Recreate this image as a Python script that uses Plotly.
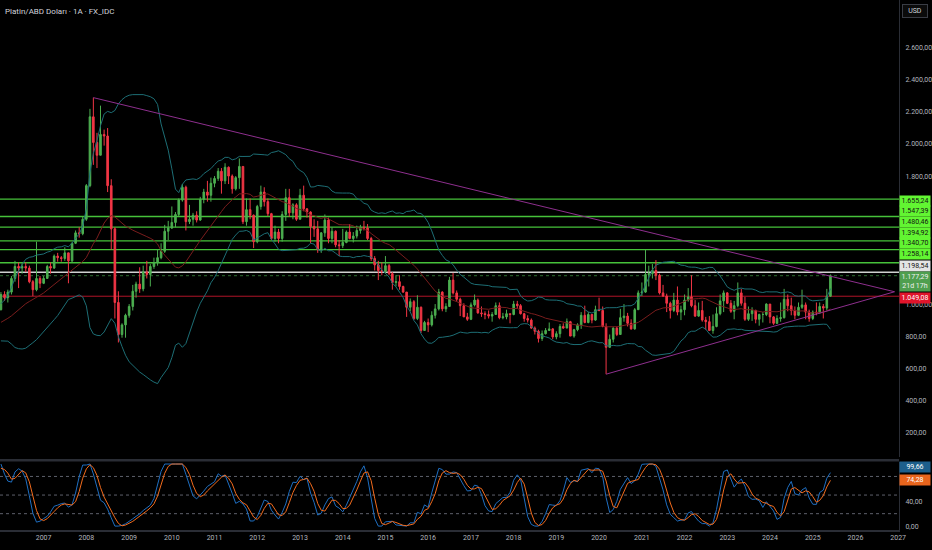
import numpy as np
import pandas as pd
import plotly.graph_objects as go

# ---- data (monthly platinum, USD/oz) ----
# closes before 2006, only used to warm up the indicators
warmup_close = [
    640, 680, 660, 615, 645, 680, 700, 705, 710, 750, 770, 810,
    850, 860, 900, 860, 835, 805, 810, 850, 845, 845, 855, 860,
    860, 865, 870, 865, 875, 880, 885, 905, 930, 925, 965, 965,
]

close = [
    1060, 1040, 1075, 1160, 1235, 1225, 1235, 1225, 1140, 1090, 1160, 1130,
    1160, 1235, 1225, 1300, 1290, 1285, 1320, 1270, 1380, 1445, 1440, 1530,
    1740, 2170, 2010, 1930, 2060, 2050, 1740, 1470, 1010, 810, 870, 930,
    985, 1080, 1125, 1095, 1200, 1185, 1235, 1260, 1290, 1330, 1455, 1475,
    1510, 1560, 1650, 1730, 1515, 1530, 1555, 1525, 1655, 1700, 1680, 1755,
    1785, 1830, 1770, 1855, 1800, 1720, 1790, 1860, 1515, 1590, 1555, 1390,
    1610, 1700, 1640, 1565, 1410, 1450, 1410, 1560, 1665, 1570, 1620, 1530,
    1680, 1595, 1575, 1485, 1470, 1340, 1445, 1525, 1410, 1455, 1370, 1365,
    1385, 1450, 1410, 1425, 1460, 1480, 1475, 1410, 1285, 1245, 1210, 1205,
    1240, 1190, 1135, 1140, 1110, 1075, 980, 1015, 910, 980, 835, 885,
    870, 930, 970, 1075, 970, 985, 1150, 1070, 1030, 990, 920, 905,
    995, 1025, 945, 940, 935, 925, 935, 990, 915, 920, 940, 935,
    1000, 990, 940, 910, 900, 850, 830, 785, 815, 835, 845, 795,
    815, 860, 850, 890, 800, 840, 870, 930, 885, 935, 900, 965,
    960, 860, 730, 780, 850, 810, 915, 925, 880, 845, 965, 1070,
    1075, 1185, 1190, 1210, 1180, 1070, 1050, 1005, 960, 1025, 950, 965,
    1025, 1045, 990, 925, 960, 900, 890, 835, 860, 940, 1020, 1070,
    1005, 955, 990, 1070, 1005, 905, 940, 960, 905, 935, 935, 1000,
    920, 880, 910, 915, 1030, 990, 960, 930, 980, 995, 950, 910,
    950, 945, 985, 975, 1049.08, 1177.29,
]

high = [
    1075, 1080, 1090, 1175, 1270, 1260, 1255, 1260, 1240, 1150, 1390, 1175,
    1175, 1245, 1260, 1310, 1320, 1300, 1355, 1320, 1385, 1460, 1480, 1545,
    1750, 2220, 2290, 2070, 2240, 2090, 2100, 1780, 1480, 1080, 880, 940,
    1000, 1120, 1140, 1230, 1240, 1270, 1250, 1290, 1340, 1380, 1495, 1520,
    1610, 1575, 1660, 1750, 1740, 1620, 1570, 1580, 1670, 1720, 1770, 1790,
    1800, 1850, 1850, 1880, 1860, 1810, 1800, 1910, 1860, 1660, 1660, 1560,
    1620, 1740, 1730, 1660, 1570, 1490, 1470, 1580, 1720, 1720, 1630, 1630,
    1720, 1740, 1600, 1580, 1530, 1520, 1450, 1560, 1540, 1480, 1460, 1400,
    1470, 1460, 1500, 1450, 1490, 1495, 1520, 1500, 1420, 1300, 1270, 1260,
    1300, 1250, 1200, 1180, 1180, 1115, 1075, 1035, 1025, 1055, 985, 895,
    910, 955, 1000, 1095, 1080, 1005, 1170, 1195, 1085, 1040, 1005, 945,
    1010, 1060, 1035, 985, 955, 960, 950, 1010, 1010, 945, 965, 940,
    1020, 1020, 1000, 945, 930, 910, 860, 840, 835, 850, 885, 850,
    830, 875, 880, 910, 895, 845, 880, 950, 990, 950, 935, 990,
    1040, 985, 880, 810, 855, 860, 970, 1000, 945, 905, 975, 1085,
    1135, 1340, 1240, 1250, 1275, 1190, 1120, 1065, 1015, 1070, 1110, 990,
    1060, 1100, 1180, 1025, 1010, 1020, 920, 925, 935, 980, 1060, 1085,
    1075, 1025, 1020, 1135, 1095, 1045, 985, 980, 965, 940, 950, 1005,
    1000, 925, 930, 1010, 1095, 1060, 1040, 985, 1010, 1090, 1010, 965,
    960, 1010, 1010, 1000, 1095, 1185,
]

low = [
    960, 1020, 1010, 1060, 1140, 1100, 1190, 1200, 1130, 1050, 1080, 1100,
    1125, 1160, 1190, 1220, 1265, 1265, 1270, 1130, 1260, 1375, 1415, 1430,
    1520, 1730, 1870, 1850, 1930, 1990, 1700, 1340, 910, 760, 790, 790,
    915, 960, 1040, 1070, 1080, 1160, 1110, 1220, 1240, 1280, 1320, 1400,
    1470, 1480, 1550, 1640, 1460, 1500, 1490, 1510, 1520, 1630, 1640, 1640,
    1730, 1770, 1690, 1750, 1750, 1690, 1710, 1720, 1500, 1490, 1530, 1350,
    1380, 1590, 1610, 1550, 1400, 1390, 1380, 1390, 1520, 1545, 1530, 1520,
    1530, 1580, 1540, 1380, 1420, 1320, 1320, 1420, 1380, 1380, 1355, 1300,
    1350, 1380, 1405, 1385, 1410, 1440, 1460, 1400, 1270, 1210, 1150, 1180,
    1190, 1180, 1090, 1110, 1090, 1070, 920, 955, 900, 900, 820, 835,
    825, 860, 910, 960, 955, 950, 985, 1060, 1015, 925, 920, 895,
    900, 985, 940, 920, 905, 910, 890, 955, 905, 905, 905, 880,
    930, 970, 935, 890, 885, 845, 810, 760, 770, 810, 835, 780,
    780, 790, 845, 860, 800, 790, 830, 845, 880, 880, 880, 895,
    955, 855, 562, 740, 760, 800, 810, 890, 860, 840, 840, 965,
    1050, 1070, 1110, 1160, 1150, 1060, 1045, 950, 910, 950, 930, 900,
    930, 1015, 980, 920, 920, 890, 840, 835, 815, 855, 930, 950,
    1000, 945, 905, 980, 990, 895, 895, 895, 880, 865, 885, 925,
    880, 870, 875, 890, 910, 955, 930, 905, 925, 970, 905, 890,
    900, 930, 940, 910, 960, 1045,
]

# drawn horizontal levels
green_levels = [1655.24, 1547.39, 1480.46, 1394.92, 1340.70, 1258.14]
white_level = 1198.54
last_price = 1177.29
red_level = 1049.08
countdown = "21d 17h"

# triangle trend lines (date, price)
tri_upper_dates = ["2008-03-01", "2026-12-01"]
tri_upper_prices = [2290, 1077]
tri_lower_dates = ["2020-03-01", "2026-12-01"]
tri_lower_prices = [562, 1077]

# last stoch RSI values shown on the scale
k_last, d_last = 99.66, 74.28

# scale labels left visible by the price tags
price_ticks = [200, 400, 600, 800, 1000, 1800, 2000, 2200, 2400, 2600]
stoch_ticks = [0, 40]
year_ticks = list(range(2006, 2028))


def tr_num(v):
    return f"{v:,.2f}".replace(",", "X").replace(".", ",").replace("X", ".")


# ---- series ----
dates = pd.date_range("2006-01-01", periods=len(close), freq="MS")
all_close = pd.Series(warmup_close + close, dtype=float)
n_warm = len(warmup_close)

c = np.array(close, dtype=float)
o = np.concatenate([[warmup_close[-1]], c[:-1]])
h = np.maximum(np.array(high, dtype=float), np.maximum(o, c))
l = np.minimum(np.array(low, dtype=float), np.minimum(o, c))

# bollinger bands 20, 2
basis = all_close.rolling(20).mean()
dev = all_close.rolling(20).std(ddof=0) * 2
upper = (basis + dev).iloc[n_warm:].values
lower = (basis - dev).iloc[n_warm:].values
basis = basis.iloc[n_warm:].values

# stochastic RSI 14,14,3,3
delta = all_close.diff()
gain = delta.clip(lower=0).ewm(alpha=1 / 14, adjust=False).mean()
loss = (-delta.clip(upper=0)).ewm(alpha=1 / 14, adjust=False).mean()
rsi = 100 - 100 / (1 + gain / loss)
lo14 = rsi.rolling(14).min()
hi14 = rsi.rolling(14).max()
stoch = (rsi - lo14) / (hi14 - lo14) * 100
k = stoch.rolling(3).mean()
d = k.rolling(3).mean()
k = k.iloc[n_warm:].values
d = d.iloc[n_warm:].values

# ---- figure ----
BG = "#000000"
AXIS_TXT = "#b2b5be"
GREEN = "#4caf50"
RED = "#f23645"

fig = go.Figure()

fig.add_trace(go.Scatter(x=dates, y=upper, mode="lines", line=dict(color="#1d6e75", width=1),
                         hoverinfo="skip"))
fig.add_trace(go.Scatter(x=dates, y=lower, mode="lines", line=dict(color="#1d6e75", width=1),
                         hoverinfo="skip"))
fig.add_trace(go.Scatter(x=dates, y=basis, mode="lines", line=dict(color="#7a1d1d", width=1),
                         hoverinfo="skip"))

fig.add_trace(go.Candlestick(
    x=dates, open=o, high=h, low=l, close=c,
    increasing=dict(line=dict(color=GREEN, width=1), fillcolor=GREEN),
    decreasing=dict(line=dict(color=RED, width=1), fillcolor=RED),
    whiskerwidth=0, hoverinfo="skip",
))

fig.add_trace(go.Scatter(x=pd.to_datetime(tri_upper_dates), y=tri_upper_prices, mode="lines",
                         line=dict(color="#8e2f8e", width=1), hoverinfo="skip"))
fig.add_trace(go.Scatter(x=pd.to_datetime(tri_lower_dates), y=tri_lower_prices, mode="lines",
                         line=dict(color="#8e2f8e", width=1), hoverinfo="skip"))

fig.add_trace(go.Scatter(x=dates, y=k, yaxis="y2", mode="lines",
                         line=dict(color="#1f6fc2", width=1), hoverinfo="skip"))
fig.add_trace(go.Scatter(x=dates, y=d, yaxis="y2", mode="lines",
                         line=dict(color="#f26b1d", width=1), hoverinfo="skip"))

shapes = []
for lv in green_levels:
    shapes.append(dict(type="line", xref="x domain", x0=0, x1=1, yref="y", y0=lv, y1=lv,
                       line=dict(color="#46c23a", width=1.3), layer="below"))
shapes.append(dict(type="line", xref="x domain", x0=0, x1=1, yref="y", y0=white_level, y1=white_level,
                   line=dict(color="#cfcfcf", width=1.6), layer="below"))
shapes.append(dict(type="line", xref="x domain", x0=0, x1=1, yref="y", y0=last_price, y1=last_price,
                   line=dict(color="#2e6b30", width=1, dash="dot"), layer="below"))
shapes.append(dict(type="line", xref="x domain", x0=0, x1=1, yref="y", y0=red_level, y1=red_level,
                   line=dict(color="#b01428", width=1), layer="below"))
for lv in (80, 50, 20):
    shapes.append(dict(type="line", xref="x domain", x0=0, x1=1, yref="y2", y0=lv, y1=lv,
                       line=dict(color="#5d606b", width=1, dash="dot"), layer="below"))
# pane separator
shapes.append(dict(type="line", xref="paper", x0=0, x1=1, yref="paper", y0=0.1315, y1=0.1315,
                   line=dict(color="#2a2d35", width=2.5)))

H = 530.0  # plot height in px (550 minus bottom margin)


def py(pix):
    return (H - pix) / H


def tag(text, pix, bg, fg, hgt=10):
    return dict(text=text, xref="paper", yref="paper", x=1, y=py(pix), xanchor="left",
                yanchor="middle", showarrow=False, width=30, height=hgt, borderpad=0,
                bgcolor=bg, font=dict(size=7, color=fg))


annotations = [
    dict(text="Platin/ABD Doları · 1A · FX_IDC", xref="paper", yref="paper", x=0, y=1,
         xanchor="left", yanchor="top", xshift=3, yshift=-5, showarrow=False,
         font=dict(size=8, color="#d1d4dc")),
    dict(text="USD", xref="paper", yref="paper", x=1, y=1, xanchor="left", yanchor="top",
         xshift=3, yshift=-4, showarrow=False, font=dict(size=7, color="#d1d4dc"),
         bordercolor="#3a3d45", borderwidth=1, borderpad=2, bgcolor="#0b0b0b", width=20),
]

label_pix = [200.7, 211.4, 222.1, 232.8, 243.5, 254.2]
for lv, pix in zip(green_levels, label_pix):
    annotations.append(tag(tr_num(lv), pix, "#62f532", "#111111"))
annotations.append(tag(tr_num(white_level), 266.0, "#e4e4e4", "#111111"))
annotations.append(tag(tr_num(last_price) + "<br>" + countdown, 281.5, "#4f9f4f", "#f0f0f0", hgt=19))
annotations.append(tag(tr_num(red_level), 297.5, "#e0142b", "#ffffff"))
annotations.append(tag(tr_num(k_last), 466.5, "#1d5f8c", "#ffffff"))
annotations.append(tag(tr_num(d_last), 479.5, "#e8651d", "#ffffff"))

fig.update_layout(
    width=932, height=550,
    margin=dict(l=0, r=31, t=0, b=20),
    paper_bgcolor=BG, plot_bgcolor=BG,
    showlegend=False, hovermode=False,
    font=dict(family="Roboto, sans-serif", size=7, color=AXIS_TXT),
    xaxis=dict(
        type="date", range=["2005-12-24", "2027-01-08"], anchor="y2",
        rangeslider=dict(visible=False), showgrid=False, zeroline=False,
        tickvals=[pd.Timestamp(f"{yr}-01-01") for yr in year_ticks],
        ticktext=[str(yr) for yr in year_ticks],
        showline=True, linecolor="#2a2d35", linewidth=2,
        tickfont=dict(size=7, color=AXIS_TXT), ticks="",
    ),
    yaxis=dict(
        domain=[0.1375, 1], range=[43.75, 2900], side="right", showgrid=False, zeroline=False,
        tickvals=price_ticks, ticktext=[tr_num(v) for v in price_ticks],
        tickfont=dict(size=7, color=AXIS_TXT), showline=True, linecolor="#2a2d35", linewidth=1,
        ticks="", ticklabelstandoff=4,
    ),
    yaxis2=dict(
        domain=[0, 0.128], range=[-6.3, 103], side="right", showgrid=False, zeroline=False,
        tickvals=stoch_ticks, ticktext=[tr_num(v) for v in stoch_ticks],
        tickfont=dict(size=7, color=AXIS_TXT), showline=True, linecolor="#2a2d35", linewidth=1,
        ticks="", ticklabelstandoff=4,
    ),
    shapes=shapes,
    annotations=annotations,
)

# the page's default body margin would push the 932x550 figure out of the window
fig.write_html("out.html", config={"displayModeBar": False},
               post_script="document.body.style.margin='0';"
                           "document.body.style.background='#000';")
